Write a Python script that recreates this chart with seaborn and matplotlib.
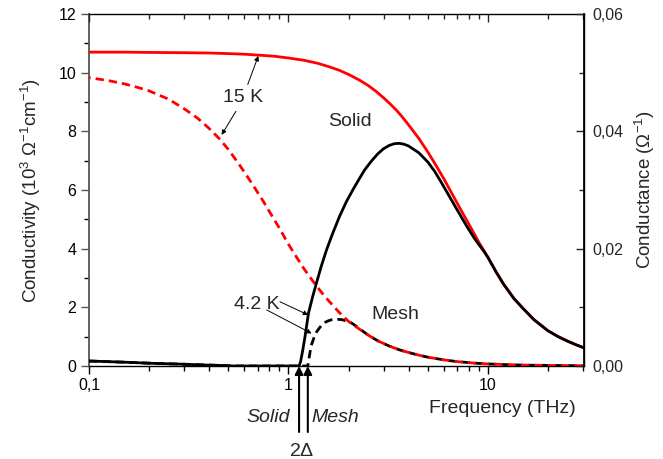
import matplotlib
matplotlib.use("Agg")
import matplotlib.pyplot as plt
import seaborn as sns
import numpy as np
import pandas as pd
from matplotlib.ticker import FixedLocator, FuncFormatter, MultipleLocator, LogLocator, NullFormatter

# ---------------- data ----------------
freq_15K_solid = [0.1, 0.15, 0.2, 0.3, 0.4, 0.5, 0.6, 0.7, 0.85, 1.0, 1.2, 1.4, 1.6, 1.8, 2.0,
                  2.25, 2.5, 2.75, 3.0, 3.25, 3.5, 3.75, 4.0, 4.5, 5.0, 5.5, 6.0, 6.5, 7.0, 7.5,
                  8.0, 9.0, 10, 11, 12, 13.5, 15, 17, 20, 22.5, 25, 27.5, 30]
sigma_15K_solid = [10.70, 10.70, 10.69, 10.68, 10.67, 10.65, 10.63, 10.60, 10.56, 10.50, 10.42,
                   10.32, 10.20, 10.08, 9.94, 9.76, 9.57, 9.36, 9.14, 8.92, 8.70, 8.46, 8.22,
                   7.76, 7.29, 6.83, 6.39, 5.96, 5.56, 5.19, 4.85, 4.22, 3.70, 3.20, 2.78, 2.30,
                   1.96, 1.58, 1.20, 1.00, 0.85, 0.73, 0.63]

freq_15K_mesh = [0.1, 0.125, 0.15, 0.175, 0.2, 0.25, 0.3, 0.35, 0.4, 0.45, 0.5, 0.55, 0.6, 0.65,
                 0.7, 0.75, 0.8, 0.9, 1.0, 1.1, 1.2, 1.35, 1.5, 1.65, 1.8, 2.0, 2.2, 2.5, 2.8,
                 3.2, 3.6, 4.0, 4.5, 5.0, 6.0, 7.0, 8.5, 10, 12, 15, 20, 30]
sigma_15K_mesh = [9.83, 9.73, 9.62, 9.50, 9.38, 9.10, 8.77, 8.45, 8.10, 7.75, 7.38, 6.99, 6.62,
                  6.26, 5.92, 5.60, 5.28, 4.70, 4.15, 3.70, 3.30, 2.82, 2.42, 2.10, 1.82, 1.52,
                  1.32, 1.06, 0.86, 0.68, 0.55, 0.46, 0.37, 0.30, 0.21, 0.15, 0.10, 0.07, 0.05,
                  0.03, 0.02, 0.01]

freq_4K_solid = [0.1, 0.15, 0.21, 0.3, 0.36, 0.45, 0.53, 1.13, 1.15, 1.18, 1.21, 1.26, 1.32,
                 1.38, 1.46, 1.55, 1.65, 1.8, 1.95, 2.1, 2.25, 2.4, 2.6, 2.8, 3.0, 3.2, 3.4,
                 3.6, 3.8, 4.0, 4.5, 5.0, 5.4, 5.8, 6.2, 6.6, 7.0, 7.5, 8.0, 8.5, 9.0, 9.5, 10,
                 11, 12, 13.5, 15, 17, 20, 22.5, 25, 27.5, 30]
sigma_4K_solid = [0.17, 0.13, 0.09, 0.06, 0.04, 0.02, 0.0, 0.0, 0.15, 0.55, 1.0, 1.8, 2.35,
                  2.82, 3.40, 3.95, 4.45, 5.09, 5.60, 6.00, 6.35, 6.67, 6.98, 7.23, 7.41, 7.52,
                  7.58, 7.59, 7.56, 7.50, 7.27, 6.95, 6.64, 6.29, 5.95, 5.63, 5.33, 4.98, 4.66,
                  4.38, 4.14, 3.93, 3.70, 3.20, 2.78, 2.30, 1.96, 1.58, 1.20, 1.00, 0.85, 0.73,
                  0.63]

freq_4K_mesh = [0.1, 0.15, 0.21, 0.3, 0.36, 0.45, 0.53, 1.25, 1.27, 1.3, 1.34, 1.38, 1.43, 1.47,
                1.52, 1.57, 1.63, 1.7, 1.78, 1.85, 1.92, 2.0, 2.1, 2.2, 2.5, 2.8, 3.2, 3.6, 4.0,
                4.5, 5.0, 6.0, 7.0, 8.5, 10, 12, 15, 20, 30]
sigma_4K_mesh = [0.17, 0.13, 0.09, 0.06, 0.04, 0.02, 0.0, 0.0, 0.3, 0.7, 0.95, 1.15, 1.30, 1.40,
                 1.48, 1.53, 1.57, 1.59, 1.59, 1.58, 1.55, 1.52, 1.44, 1.34, 1.06, 0.86, 0.68,
                 0.55, 0.46, 0.37, 0.30, 0.21, 0.15, 0.10, 0.07, 0.05, 0.03, 0.02, 0.01]

gap_solid = 1.13
gap_mesh = 1.25

x_ticks = [0.1, 1, 10]
x_ticklabels = ["0,1", "1", "10"]
y_ticks = [0, 2, 4, 6, 8, 10, 12]
y2_ticks = [0.00, 0.02, 0.04, 0.06]

# ---------------- style ----------------
sns.set_theme(style="ticks")
plt.rcParams["font.family"] = ["Liberation Sans", "DejaVu Sans"]
plt.rcParams["mathtext.fontset"] = "custom"
plt.rcParams["mathtext.rm"] = "Liberation Sans"
plt.rcParams["mathtext.it"] = "Liberation Sans:italic"
plt.rcParams["mathtext.bf"] = "Liberation Sans:bold"

fig = plt.figure(figsize=(6.63, 4.59), dpi=100)
ax = fig.add_axes([89 / 663, 1 - 366 / 459, 495 / 663, 352 / 459])

LW = 2.0
sns.lineplot(x=freq_15K_solid, y=sigma_15K_solid, ax=ax, color="#ff0000", lw=LW,
             estimator=None, sort=False, zorder=3)
sns.lineplot(x=freq_4K_mesh, y=sigma_4K_mesh, ax=ax, color="black", lw=LW,
             linestyle=(0, (3, 1.8)), estimator=None, sort=False, zorder=3)
sns.lineplot(x=freq_15K_mesh, y=sigma_15K_mesh, ax=ax, color="#ff0000", lw=LW,
             linestyle=(2.4, (3, 1.8)), estimator=None, sort=False, zorder=4)
sns.lineplot(x=freq_4K_solid, y=sigma_4K_solid, ax=ax, color="black", lw=LW,
             estimator=None, sort=False, zorder=5)

ax.set_xscale("log")
ax.set_xlim(0.1, 30.3)
ax.set_ylim(0, 12)
ax.xaxis.set_major_locator(FixedLocator(x_ticks))
ax.xaxis.set_major_formatter(FuncFormatter(lambda v, p: x_ticklabels[x_ticks.index(v)] if v in x_ticks else ""))
ax.xaxis.set_minor_locator(LogLocator(base=10, subs=np.arange(2, 10)))
ax.xaxis.set_minor_formatter(NullFormatter())
ax.yaxis.set_major_locator(FixedLocator(y_ticks))
ax.yaxis.set_minor_locator(MultipleLocator(1))
ax.tick_params(axis="both", which="both", direction="out", labelsize=11.5, colors="black",
               top=False, right=False, width=1.0, pad=3)
ax.tick_params(which="major", length=6)
ax.tick_params(which="minor", length=3.5)
ax.tick_params(axis="y", colors="#555555", labelcolor="black")

for s in ["top", "right", "bottom"]:
    ax.spines[s].set_color("black")
    ax.spines[s].set_linewidth(1.0)
ax.spines["left"].set_color("#555555")
ax.spines["left"].set_linewidth(1.3)

ax.set_ylabel("Conductivity (10$^{3}$ Ω$^{-1}$cm$^{-1}$)", fontsize=13.5)
ax.yaxis.set_label_coords(-0.092, 0.5)
ax.set_xlabel("Frequency (THz)", fontsize=14, va="center")
ax.xaxis.set_label_coords(0.836, -0.12)

# top ticks pointing in
axt = ax.twiny()
axt.set_xscale("log")
axt.set_xlim(ax.get_xlim())
axt.xaxis.set_major_locator(FixedLocator(x_ticks))
axt.xaxis.set_minor_locator(LogLocator(base=10, subs=np.arange(2, 10)))
axt.xaxis.set_major_formatter(NullFormatter())
axt.xaxis.set_minor_formatter(NullFormatter())
axt.tick_params(axis="x", which="both", direction="in", top=True, labeltop=False, width=1.0)
axt.tick_params(which="major", length=6)
axt.tick_params(which="minor", length=3.5)
for s in axt.spines.values():
    s.set_visible(False)
axt.grid(False)

# right axis
ax2 = ax.twinx()
ax2.set_ylim(0, 0.06)
ax2.yaxis.set_major_locator(FixedLocator(y2_ticks))
ax2.yaxis.set_minor_locator(MultipleLocator(0.01))
ax2.yaxis.set_major_formatter(FuncFormatter(lambda v, p: f"{v:.2f}".replace(".", ",")))
ax2.tick_params(axis="y", which="both", direction="in", labelsize=11.5, width=1.0, pad=6)
ax2.tick_params(which="major", length=6)
ax2.tick_params(which="minor", length=3.5)
for s in ["top", "left", "bottom"]:
    ax2.spines[s].set_visible(False)
ax2.spines["right"].set_color("black")
ax2.set_ylabel("Conductance (Ω$^{-1}$)", fontsize=13.5)
ax2.yaxis.set_label_coords(1.098, 0.5)

# ---------------- annotations ----------------
fs = 14
thin = dict(arrowstyle="-|>", color="black", lw=0.7, mutation_scale=7, shrinkA=0, shrinkB=0)
ax.text(0.591, 9.14, "15 K", fontsize=fs, ha="center", va="center", zorder=6)
ax.annotate("", xy=(0.706, 10.57), xytext=(0.625, 9.6), arrowprops=thin, zorder=6)
ax.annotate("", xy=(0.462, 7.88), xytext=(0.545, 8.68), arrowprops=thin, zorder=6)

ax.text(2.03, 8.35, "Solid", fontsize=fs, ha="center", va="center", zorder=6)
ax.text(3.42, 1.74, "Mesh", fontsize=fs, ha="center", va="center", zorder=6)

ax.text(0.693, 2.08, "4.2 K", fontsize=fs, ha="center", va="center", zorder=6)
ax.annotate("", xy=(1.256, 1.74), xytext=(0.906, 2.19), arrowprops=thin, zorder=6)
ax.annotate("", xy=(1.306, 1.11), xytext=(0.778, 1.91), arrowprops=thin, zorder=6)

thick = dict(arrowstyle="-|>", color="black", lw=1.5, mutation_scale=12, shrinkA=0, shrinkB=0)
ax.annotate("", xy=(gap_solid, 0), xytext=(gap_solid, -2.25), arrowprops=thick,
            annotation_clip=False)
ax.annotate("", xy=(gap_mesh, 0), xytext=(gap_mesh, -2.25), arrowprops=thick,
            annotation_clip=False)
ax.text(1.017, -1.77, "Solid", fontsize=fs, style="italic", ha="right", va="center",
        clip_on=False)
ax.text(1.306, -1.77, "Mesh", fontsize=fs, style="italic", ha="left", va="center",
        clip_on=False)
ax.text(1.165, -2.93, r"2$\mathit{\Delta}$", fontsize=fs, ha="center", va="center",
        clip_on=False)

fig.savefig("out.png", dpi=100)
